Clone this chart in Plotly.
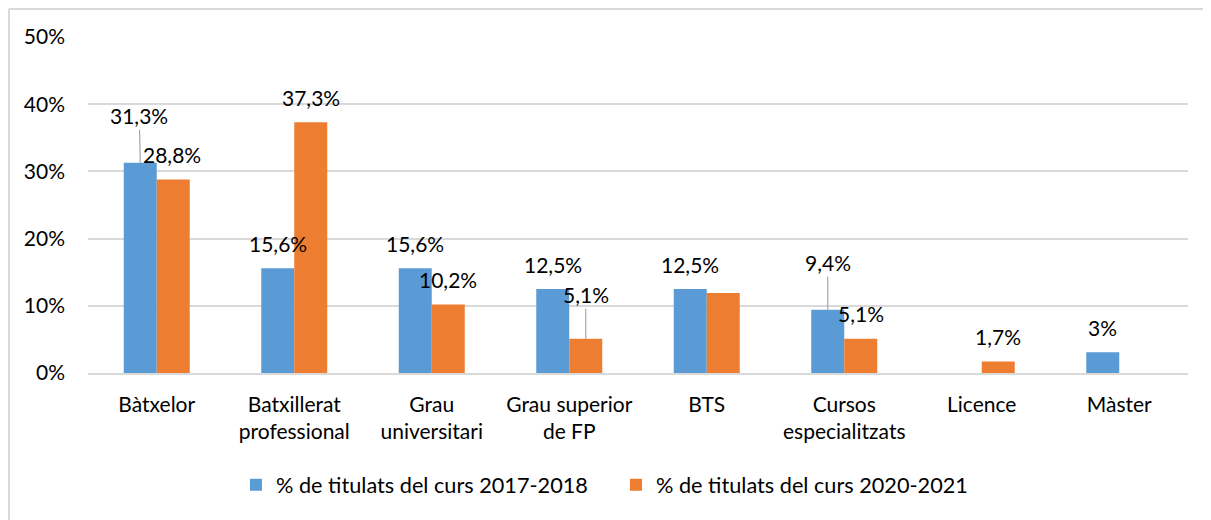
import plotly.graph_objects as go

categories = ["Bàtxelor", "Batxillerat<br>professional", "Grau<br>universitari",
              "Grau superior<br>de FP", "BTS", "Cursos<br>especialitzats", "Licence", "Màster"]
series_2017 = [31.3, 15.6, 15.6, 12.5, 12.5, 9.4, None, 3.1]
series_2020 = [28.8, 37.3, 10.2, 5.1, 11.9, 5.1, 1.7, None]
labels_2017 = ["31,3%", "15,6%", "15,6%", "12,5%", "12,5%", "9,4%", None, "3%"]
labels_2020 = ["28,8%", "37,3%", "10,2%", "5,1%", None, "5,1%", "1,7%", None]
name_2017 = "% de titulats del curs 2017-2018"
name_2020 = "% de titulats del curs 2020-2021"
y_ticks = [0, 10, 20, 30, 40, 50]
y_ticktext = ["0%", "10%", "20%", "30%", "40%", "50%"]

BLUE = "#5b9bd5"
ORANGE = "#ed7d31"
GRID = "#d9d9d9"
FONT = "Lato, Carlito, Calibri, sans-serif"
FS = 21

fig = go.Figure()
fig.add_trace(go.Bar(x=list(range(len(categories))), y=series_2017, name=name_2017,
                     marker=dict(color=BLUE, line=dict(width=0)), hoverinfo="skip"))
fig.add_trace(go.Bar(x=list(range(len(categories))), y=series_2020, name=name_2020,
                     marker=dict(color=ORANGE, line=dict(width=0)), hoverinfo="skip"))

half = 0.12  # half of group offset (bar width in category units)
# leader-line labels: (series index, category index) -> (ax, ay)
leaders = {(0, 0): (-1, -47), (1, 3): (0, -44), (0, 5): (0, -47)}
custom_dx = {(1, 0): -1}

annotations = []
for s, (vals, labs) in enumerate([(series_2017, labels_2017), (series_2020, labels_2020)]):
    off = -half if s == 0 else half
    for i, (v, t) in enumerate(zip(vals, labs)):
        if v is None or t is None:
            continue
        xpos = i + off
        if (s, i) in leaders:
            ax, ay = leaders[(s, i)]
            annotations.append(dict(x=xpos, y=v, xref="x", yref="y", text=t,
                                    showarrow=True, arrowhead=0, arrowwidth=1.2,
                                    arrowcolor="#a6a6a6", ax=ax, ay=ay, standoff=0,
                                    font=dict(family=FONT, size=FS, color="#000")))
        else:
            annotations.append(dict(x=xpos, y=v, xref="x", yref="y", text=t,
                                    showarrow=False, yshift=25,
                                    xshift=custom_dx.get((s, i), 0), yanchor="middle",
                                    font=dict(family=FONT, size=FS, color="#000")))

fig.update_layout(
    width=1211, height=520,
    margin=dict(l=80, r=31, t=29, b=155),
    paper_bgcolor="white", plot_bgcolor="white",
    barmode="group", bargap=0.52, bargroupgap=0,
    font=dict(family=FONT, size=FS, color="#000"),
    showlegend=True,
    legend=dict(orientation="h", x=0.1345, xanchor="left", y=-0.334, yanchor="middle",
                font=dict(family=FONT, size=21.7, color="#000"), itemwidth=30,
                traceorder="normal", entrywidth=335, entrywidthmode="pixels"),
    annotations=annotations,
    shapes=[
        dict(type="line", xref="paper", yref="paper", x0=-0.0718, x1=1.1, y0=1.0833, y1=1.0833,
             line=dict(color=GRID, width=2)),
        dict(type="line", xref="paper", yref="paper", x0=-0.0718, x1=-0.0718, y0=1.0833, y1=-0.5,
             line=dict(color=GRID, width=2)),
    ],
)
fig.update_xaxes(tickmode="array", tickvals=list(range(len(categories))), ticktext=categories,
                 range=[-0.5, len(categories) - 0.5], showgrid=False, zeroline=False,
                 showline=True, linecolor=GRID, linewidth=1.5, ticks="", ticklabelstandoff=12,
                 tickfont=dict(family=FONT, size=FS, color="#000"))
fig.update_yaxes(range=[0, 50], tickmode="array", tickvals=y_ticks, ticktext=y_ticktext,
                 showgrid=True, gridcolor=GRID, gridwidth=1.5, zeroline=False, showline=False,
                 ticks="", ticklabelstandoff=22,
                 tickfont=dict(family=FONT, size=FS, color="#000"))

fig.write_html("out.html")
